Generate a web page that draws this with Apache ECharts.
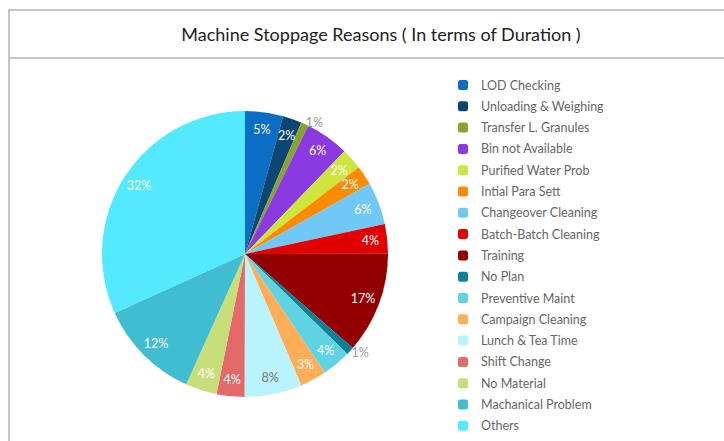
<!DOCTYPE html>
<html>
<head>
<meta charset="utf-8">
<script src="https://cdn.jsdelivr.net/npm/echarts@6/dist/echarts.min.js"></script>
<style>
  html, body { margin: 0; padding: 0; background: #fff; }
  #main { width: 724px; height: 441px; }
</style>
</head>
<body>
<div id="main"></div>
<script>
// stoppage reasons, in legend order
var reasons = ['LOD Checking', 'Unloading & Weighing', 'Transfer L. Granules', 'Bin not Available',
  'Purified Water Prob', 'Intial Para Sett', 'Changeover Cleaning', 'Batch-Batch Cleaning',
  'Training', 'No Plan', 'Preventive Maint', 'Campaign Cleaning', 'Lunch & Tea Time',
  'Shift Change', 'No Material', 'Machanical Problem', 'Others'];
// duration share
var durations = [4.3, 2.15, 0.85, 4.95, 2.4, 2.2, 4.8, 3.35,
  11.45, 0.9, 3.25, 3.0, 6.5, 3.15, 3.55, 11.5, 31.8];
// percent labels as printed on the slices
var shareLabels = ['5%', '2%', '1%', '6%', '2%', '2%', '6%', '4%',
  '17%', '1%', '4%', '3%', '8%', '4%', '4%', '12%', '32%'];
var colors = ['#0a6ec4', '#0d4573', '#87a52b', '#8a3ae0', '#cde63e', '#ff8a00', '#70c8f7', '#e00000',
  '#920000', '#0a8099', '#60d3e3', '#ffad57', '#b9f3fc', '#e36a6a', '#c8de7b', '#40bdd0', '#53e9ff'];

var myChart = echarts.init(document.getElementById('main'), null, { renderer: 'svg' });

var pieData = reasons.map(function (n, i) {
  return { name: n, value: durations[i], itemStyle: { color: colors[i] } };
});

var labelData = reasons.map(function (n, i) {
  var d = { name: n, value: durations[i] };
  if (shareLabels[i] === '1%') {
    d.label = { position: 'outside', color: '#999' };
  } else if (n === 'Lunch & Tea Time') {
    d.label = { color: '#777' };
  }
  return d;
});

option = {
  animation: false,
  color: colors,
  title: {
    text: 'Machine Stoppage Reasons ( In terms of Duration )',
    left: 376,
    top: 20,
    textAlign: 'center',
    textStyle: { fontFamily: 'Lato', fontSize: 18, fontWeight: 'normal', color: '#222' }
  },
  graphic: [
    { type: 'rect', shape: { x: 9, y: 10, width: 740, height: 460 }, style: { fill: 'none', stroke: '#b5b5b5', lineWidth: 1.5 }, silent: true },
    { type: 'line', shape: { x1: 9, y1: 58, x2: 724, y2: 58 }, style: { stroke: '#b5b5b5', lineWidth: 1.5 }, silent: true }
  ],
  legend: {
    orient: 'vertical',
    left: 453,
    top: 73,
    height: 360,
    data: reasons,
    icon: 'roundRect',
    itemWidth: 10,
    itemHeight: 10,
    itemGap: 7.3,
    itemTextGap: 12,
    selectedMode: false,
    textStyle: { fontFamily: 'Lato', fontSize: 12.5, lineHeight: 14, color: '#666', padding: [0, 0, 0, 8] }
  },
  series: [
    {
      name: 'Duration',
      type: 'pie',
      center: [245, 254],
      radius: [0, 143],
      startAngle: 90,
      clockwise: true,
      label: { show: false },
      labelLine: { show: false },
      data: pieData
    },
    {
      name: 'Labels',
      type: 'pie',
      center: [245, 254],
      radius: [103, 143],
      startAngle: 90,
      clockwise: true,
      silent: true,
      avoidLabelOverlap: false,
      itemStyle: { color: 'rgba(0,0,0,0)' },
      label: {
        show: true,
        position: 'inside',
        fontFamily: 'Lato',
        fontSize: 12.5,
        color: '#fff',
        distanceToLabelLine: 0,
        formatter: function (p) { return shareLabels[p.dataIndex]; }
      },
      labelLine: { show: false, length: 2, length2: 0 },
      data: labelData
    }
  ]
};

myChart.setOption(option);
</script>
</body>
</html>
